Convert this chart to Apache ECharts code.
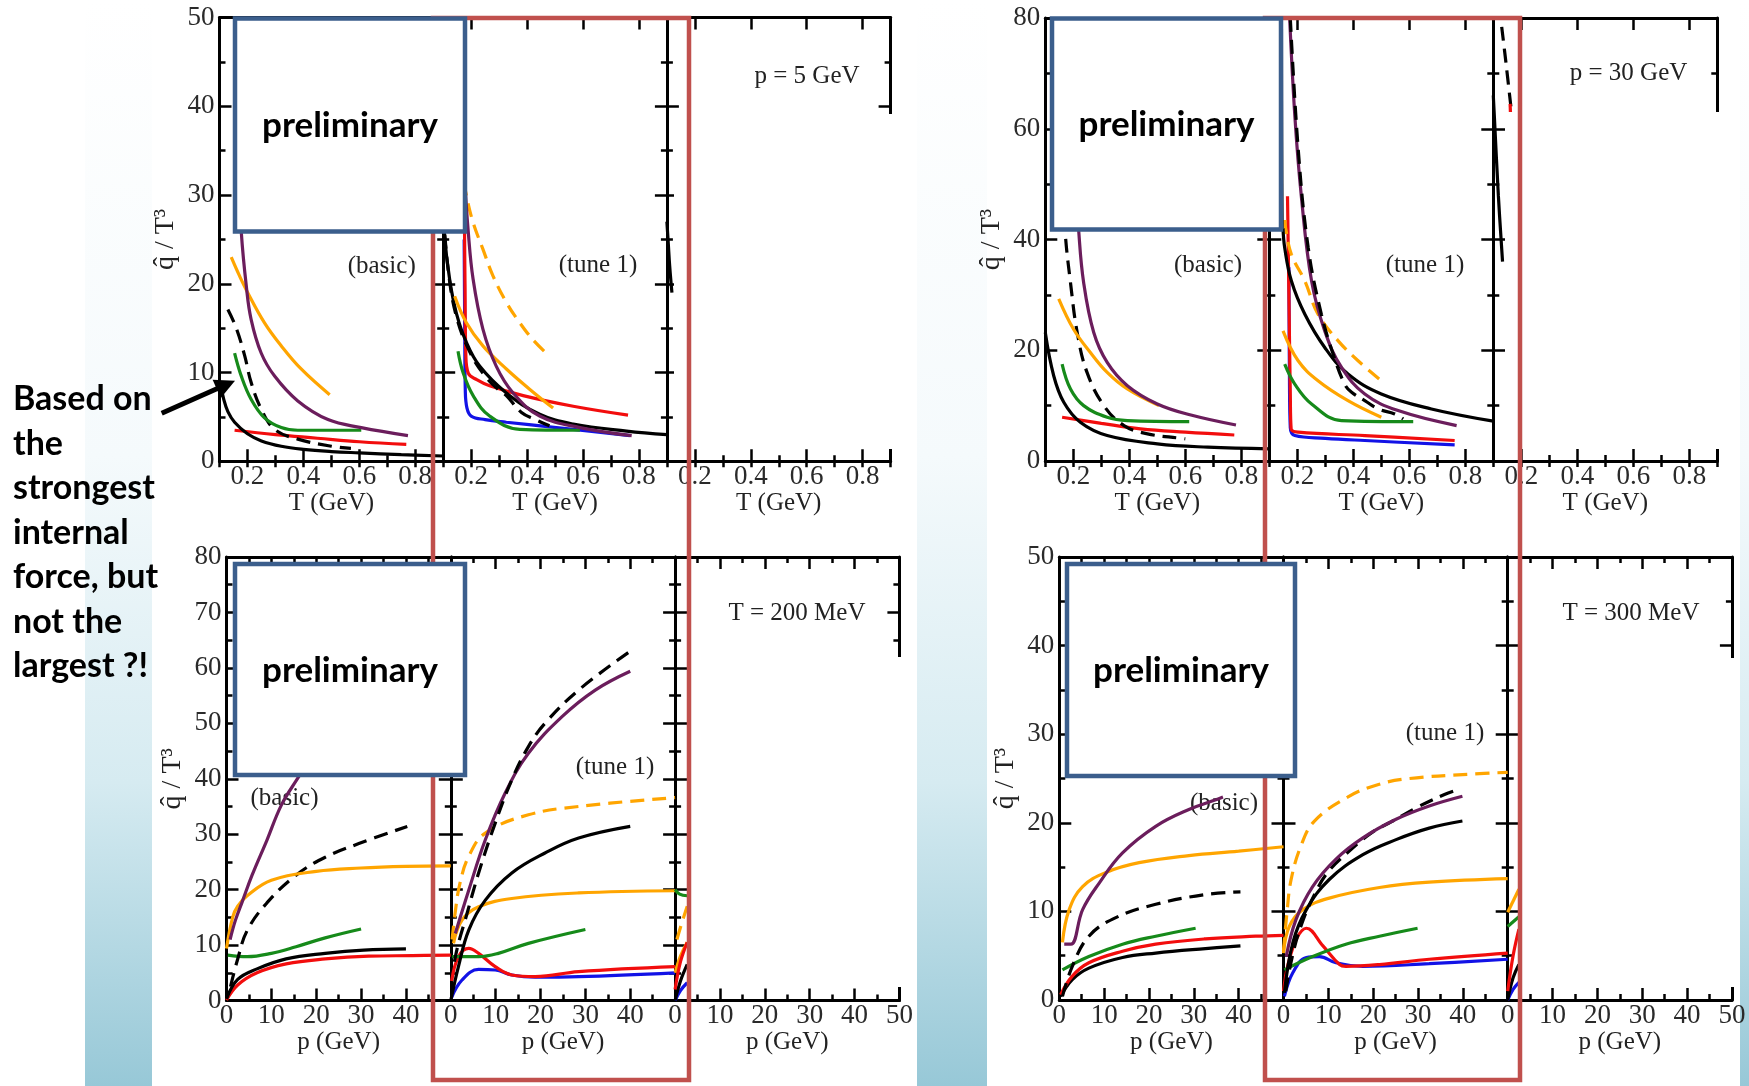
<!DOCTYPE html>
<html><head><meta charset="utf-8">
<script src="https://cdn.jsdelivr.net/npm/echarts@6/dist/echarts.min.js"></script>
<style>html,body{margin:0;padding:0;background:#fff}#c{width:1749px;height:1086px}</style>
</head><body><div id="c"></div>
<script>
// ================= DATA =================
// ---- Top-left figure: p = 5 GeV, x = T (GeV), y = qhat/T^3 ----
const TL_xTicks = [0.2, 0.4, 0.6, 0.8];
const TL_yTicks = [0, 10, 20, 30, 40, 50];
const TL_basic_black   = [[0.105,8.6],[0.115,7.0],[0.13,5.6],[0.154,4.4],[0.2,3.1],[0.25,2.3],[0.321,1.7],[0.4,1.35],[0.5,1.1],[0.6,0.95],[0.75,0.75],[0.9,0.6]];
const TL_basic_blackD  = [[0.13,17.1],[0.16,15.0],[0.19,11.9],[0.213,8.9],[0.249,5.9],[0.297,3.6],[0.38,2.5],[0.5,1.7],[0.57,1.45]];
const TL_basic_orange  = [[0.142,23.0],[0.17,21.0],[0.201,19.0],[0.261,15.6],[0.321,13.0],[0.392,10.4],[0.494,7.5]];
const TL_basic_purple  = [[0.16,40],[0.17,32],[0.178,25.8],[0.196,19.7],[0.213,16.0],[0.249,12.2],[0.297,9.6],[0.38,6.8],[0.488,4.7],[0.607,3.8],[0.774,2.9]];
const TL_basic_green   = [[0.154,12.2],[0.178,9.6],[0.213,7.0],[0.261,4.9],[0.321,3.8],[0.38,3.5],[0.607,3.5]];
const TL_basic_red     = [[0.154,3.5],[0.3,3.0],[0.45,2.6],[0.6,2.2],[0.768,1.9]];
const TL_tune_black    = [[0.1,30],[0.105,25.4],[0.123,20.5],[0.147,16.7],[0.183,13.4],[0.231,10.7],[0.326,7.7],[0.445,5.3],[0.565,4.2],[0.756,3.4],[0.9,3.0]];
const TL_tune_blackD   = [[0.1,28],[0.12,21],[0.15,16],[0.2,12],[0.25,9.6],[0.3,8.0],[0.326,7.4],[0.38,5.5],[0.43,4.7],[0.48,4.0]];
const TL_tune_orangeD  = [[0.175,31.5],[0.183,29.9],[0.207,26.9],[0.242,23.9],[0.278,20.9],[0.326,17.9],[0.374,15.6],[0.421,13.7],[0.475,12.0]];
const TL_tune_orange   = [[0.141,18.6],[0.183,15.6],[0.242,13.0],[0.326,10.4],[0.41,8.1],[0.493,6.0]];
const TL_tune_purple   = [[0.172,36],[0.177,31.8],[0.189,26.1],[0.207,20.5],[0.242,14.9],[0.29,10.7],[0.35,7.7],[0.445,5.1],[0.589,3.8],[0.774,2.9]];
const TL_tune_green    = [[0.153,12.4],[0.171,10.0],[0.207,7.4],[0.266,5.1],[0.374,3.6],[0.589,3.5]];
const TL_tune_blue     = [[0.175,25],[0.177,15],[0.179,8],[0.185,6],[0.2,5.1],[0.25,4.7],[0.326,4.4],[0.505,3.8],[0.768,2.9]];
const TL_tune_red      = [[0.176,27],[0.178,20],[0.181,12],[0.19,9.9],[0.22,9.2],[0.266,8.5],[0.386,7.4],[0.565,6.2],[0.761,5.2]];
const TL_p3_black      = [[0.1,27],[0.105,24.5],[0.11,22],[0.118,19]];

// ---- Top-right figure: p = 30 GeV ----
const TR_xTicks = [0.2, 0.4, 0.6, 0.8];
const TR_yTicks = [0, 20, 40, 60, 80];
const TR_basic_black   = [[0.1,23.2],[0.13,15.4],[0.166,10.6],[0.225,7.0],[0.321,4.6],[0.5,3.1],[0.68,2.5],[0.9,2.2]];
const TR_basic_blackD  = [[0.155,60],[0.165,48],[0.172,40.6],[0.19,32.2],[0.214,23.2],[0.249,16.0],[0.309,10.0],[0.381,6.4],[0.465,4.9],[0.584,4.1],[0.6,4.0]];
const TR_basic_orange  = [[0.148,29.3],[0.201,23.8],[0.261,19.6],[0.321,16.0],[0.393,13.0],[0.506,10.0]];
const TR_basic_purple  = [[0.2,62],[0.21,50],[0.219,41.8],[0.237,32.2],[0.273,23.2],[0.321,17.8],[0.393,13.6],[0.5,10.3],[0.62,8.3],[0.781,6.5]];
const TR_basic_green   = [[0.16,17.5],[0.19,13.0],[0.237,10.0],[0.321,7.9],[0.393,7.3],[0.614,7.1]];
const TR_basic_red     = [[0.16,7.9],[0.3,6.8],[0.44,5.8],[0.6,5.2],[0.775,4.7]];
const TR_tune_blackTop = [[0.1465,80],[0.147,65],[0.148,50],[0.149,42]];
const TR_tune_black    = [[0.149,42],[0.155,38.5],[0.179,32.5],[0.227,26.5],[0.298,20.5],[0.381,15.7],[0.5,12.1],[0.679,9.4],[0.9,7.2]];
const TR_tune_blackD   = [[0.175,80],[0.203,56.5],[0.239,38.5],[0.286,26.5],[0.33,19],[0.37,13.8],[0.394,12.4],[0.441,10.9],[0.489,9.4],[0.548,8.5],[0.578,7.6]];
const TR_tune_purple   = [[0.171,82],[0.191,62.5],[0.215,47.5],[0.251,32.5],[0.298,23.5],[0.358,16.9],[0.441,12.1],[0.56,9.1],[0.769,6.4]];
const TR_tune_orangeD  = [[0.156,43.5],[0.158,42.1],[0.179,37.3],[0.227,32.5],[0.274,26.5],[0.346,21.7],[0.417,18.1],[0.5,14.5]];
const TR_tune_orange   = [[0.149,23.5],[0.203,18.1],[0.274,14.5],[0.381,10.9],[0.5,7.9]];
const TR_tune_green    = [[0.155,17.5],[0.191,13.9],[0.251,10.3],[0.358,7.3],[0.614,7.1]];
const TR_tune_blue     = [[0.17,35],[0.172,15],[0.175,6],[0.191,4.6],[0.3,4.1],[0.441,3.7],[0.762,2.9]];
const TR_tune_red      = [[0.165,47.8],[0.17,30],[0.175,12],[0.178,5.8],[0.203,5.2],[0.441,4.6],[0.762,3.7]];
const TR_p3_black      = [[0.1,66],[0.104,62],[0.118,48],[0.133,36]];
const TR_p3_blackD     = [[0.13,78.4],[0.145,72],[0.165,63]];
const TR_p3_red        = [[0.16,64.5],[0.162,62]];

// ---- Bottom-left figure: T = 200 MeV, x = p (GeV) ----
const BL_xTicks = [0, 10, 20, 30, 40, 50];
const BL_yTicks = [0, 10, 20, 30, 40, 50, 60, 70, 80];
const BL_basic_purple  = [[0.8,11],[2,14.5],[3.5,17.8],[5.7,22.6],[9,28.9],[12.2,35.2],[15.5,39.6],[20,45],[25,50]];
const BL_basic_orange  = [[0,9.4],[1.4,15.1],[2.5,17],[4.6,18.9],[10,21.7],[20,23.3],[30,23.9],[40,24.2],[50,24.3]];
const BL_basic_blackD  = [[0.9,2.5],[2.5,7.5],[4.6,12.6],[9,17.6],[15.5,22.6],[21.9,25.8],[29.5,28.3],[40.3,31.4]];
const BL_basic_green   = [[0.3,8.2],[4.6,7.9],[10,8.5],[15.5,9.7],[22,11.3],[30,12.9]];
const BL_basic_black   = [[0,0.3],[2.5,3.8],[6.8,5.7],[13.3,7.5],[22,8.5],[30.6,9.1],[40,9.3]];
const BL_basic_red     = [[0,0.1],[2.5,2.8],[6.8,5.0],[13.3,6.6],[22,7.5],[31.7,8.0],[41.4,8.1],[50,8.2]];
const BL_tune_blackD   = [[0.8,7],[1.7,10.3],[3.2,14.5],[6.2,23.0],[9.9,32.0],[13.6,39.8],[17.3,45.8],[21,50.0],[28.5,56.0],[40,63.0]];
const BL_tune_purple   = [[1,12.1],[4,19.9],[7.7,29.0],[12.1,37.4],[17.3,44.6],[24.8,51.2],[32.2,56.0],[40,59.4]];
const BL_tune_orangeD  = [[0.3,11],[1,16],[2,21],[4,26],[7.7,30.2],[17.3,33.5],[28.5,35.0],[50,36.6]];
const BL_tune_black    = [[0,0],[1.7,6.1],[4,12.7],[7.7,18.1],[13.6,23.0],[21,26.6],[28.5,29.3],[40,31.4]];
const BL_tune_orange   = [[0.6,10.3],[2.5,14.5],[6.2,16.9],[13.6,18.4],[28.5,19.4],[50,19.8]];
const BL_tune_green    = [[0.3,7.9],[6.2,7.9],[10.6,8.5],[17.3,10.3],[30,12.8]];
const BL_tune_blue     = [[0.1,0.4],[2.5,3.7],[6.2,5.6],[9.9,5.5],[13.6,4.6],[18.8,4.2],[28.5,4.3],[50,5.0]];
const BL_tune_red      = [[0.2,3.5],[1.7,7.9],[4,9.4],[6.2,8.5],[9.9,6.1],[13.6,4.6],[18.8,4.3],[28.5,5.2],[50,6.1]];
const BL_p3_green      = [[0,20],[1,19.2],[2.7,18.9]];
const BL_p3_orangeD    = [[0.4,11],[1.5,14],[2.7,17]];
const BL_p3_orange     = [[0,5],[1.2,8],[2.7,10.5]];
const BL_p3_black      = [[0,0],[1.2,3.5],[2.7,6.5]];
const BL_p3_blue       = [[0,0],[1.2,1.8],[2.7,3.2]];
const BL_p3_red        = [[0,2],[1.2,7],[2.7,10.5]];

// ---- Bottom-right figure: T = 300 MeV ----
const BR_xTicks = [0, 10, 20, 30, 40, 50];
const BR_yTicks = [0, 10, 20, 30, 40, 50];
const BR_basic_orange  = [[0.7,6.5],[2.2,10.2],[5.2,12.8],[10.4,14.4],[17.8,15.5],[28.9,16.3],[40,16.8],[50,17.3]];
const BR_basic_purple  = [[1.1,6.3],[2.6,6.3],[5.2,10.2],[8.9,13.2],[14.1,16.6],[21.5,19.6],[28.9,21.5],[34.9,22.6],[36.5,22.9]];
const BR_basic_blackD  = [[0.7,0.4],[2.9,3.8],[6.6,7.2],[12.6,9.3],[21.5,10.8],[32.6,11.9],[40.4,12.2]];
const BR_basic_green   = [[0.7,3.4],[6.6,4.9],[14.1,6.3],[21.5,7.2],[30.4,8.1]];
const BR_basic_red     = [[0.3,0.6],[2.9,2.7],[6.6,4.2],[14.1,5.5],[21.5,6.3],[32.6,6.9],[43.8,7.2],[50,7.3]];
const BR_basic_black   = [[0.3,0.4],[2.9,2.3],[6.6,3.6],[14.1,4.8],[21.5,5.3],[32.6,5.8],[40.4,6.1]];
const BR_tune_orangeD  = [[0,5.5],[0.8,10],[1.7,13.6],[3.9,17.4],[6.9,20.2],[14.3,22.9],[21,24.3],[28.1,25.0],[42.2,25.5],[50,25.7]];
const BR_tune_blackD   = [[0.5,1],[2,5],[4,8.5],[7,12],[10,14.5],[15.1,17.0],[20,19],[24,20.1],[30,21.8],[35.9,23.2],[38,23.6]];
const BR_tune_purple   = [[0.6,4.9],[2.8,9.1],[6.5,12.8],[11.7,15.9],[17.7,18.3],[25.1,20.4],[32.5,21.9],[39.9,23.0]];
const BR_tune_black    = [[0.2,0.8],[2.1,6.5],[5.1,10.2],[10.2,13.6],[17.7,16.4],[25.1,18.1],[32.5,19.4],[39.9,20.2]];
const BR_tune_orange   = [[0,5.3],[1.3,8.3],[4.3,10.2],[10.2,11.5],[21.4,12.7],[32.5,13.3],[50,13.7]];
const BR_tune_green    = [[0.2,3.4],[6.5,4.9],[13.9,6.3],[21.4,7.2],[29.9,8.1]];
const BR_tune_blue     = [[0.2,0.4],[2.1,3.1],[5.1,4.8],[8,4.9],[11.7,4.2],[17.7,3.8],[32.5,4.1],[50,4.6]];
const BR_tune_red      = [[0,1],[1,4],[3,7],[5.1,8.1],[8.8,6.1],[12.5,4.0],[13.9,3.8],[21.4,4.0],[32.5,4.6],[50,5.3]];
const BR_p3_green      = [[0,8.3],[2.5,9.4]];
const BR_p3_orange     = [[0,9.9],[2.5,12.5]];
const BR_p3_red        = [[0,1],[1.2,5],[2.5,8]];
const BR_p3_black      = [[0,0],[1.2,2.5],[2.5,4]];
const BR_p3_blue       = [[0,0],[1.2,1.2],[2.5,2]];

// ================= STYLE / LAYOUT =================
const COL = {black:'#000000', orange:'#FFA500', purple:'#6B1D5C', green:'#168A1A', red:'#F20D0D', blue:'#1212E6'};
const ln = (data, color, dashed, width) => ({data, color: COL[color], dashed: !!dashed, width: width || 3.2});
const SERIF = 'Liberation Serif';

const FIGS = [
  {kind:'T', left:219.5, top:17.5, pw:223.7, h:443.8, xmin:0.1, xmax:0.9, xTicks:TL_xTicks, yTicks:TL_yTicks, xName:'T (GeV)',
   panels:[
    [ln(TL_basic_red,'red'), ln(TL_basic_black,'black'), ln(TL_basic_blackD,'black',1), ln(TL_basic_green,'green'), ln(TL_basic_orange,'orange'), ln(TL_basic_purple,'purple')],
    [ln(TL_tune_blue,'blue'), ln(TL_tune_red,'red'), ln(TL_tune_green,'green'), ln(TL_tune_black,'black'), ln(TL_tune_blackD,'black',1), ln(TL_tune_orange,'orange'), ln(TL_tune_orangeD,'orange',1), ln(TL_tune_purple,'purple')],
    [ln(TL_p3_black,'black')]
   ]},
  {kind:'T', left:1045.3, top:18, pw:224, h:443, xmin:0.1, xmax:0.9, xTicks:TR_xTicks, yTicks:TR_yTicks, xName:'T (GeV)',
   panels:[
    [ln(TR_basic_red,'red'), ln(TR_basic_black,'black'), ln(TR_basic_blackD,'black',1), ln(TR_basic_green,'green'), ln(TR_basic_orange,'orange'), ln(TR_basic_purple,'purple')],
    [ln(TR_tune_blue,'blue'), ln(TR_tune_red,'red'), ln(TR_tune_green,'green'), ln(TR_tune_orange,'orange'), ln(TR_tune_orangeD,'orange',1), ln(TR_tune_blackTop,'black',0,1.4), ln(TR_tune_black,'black'), ln(TR_tune_purple,'purple'), ln(TR_tune_blackD,'black',1)],
    [ln(TR_p3_black,'black'), ln(TR_p3_blackD,'black',1), ln(TR_p3_red,'red')]
   ]},
  {kind:'p', left:226.5, top:557, pw:224.3, h:443.5, xmin:0, xmax:50, xTicks:BL_xTicks, yTicks:BL_yTicks, xName:'p (GeV)',
   panels:[
    [ln(BL_basic_red,'red'), ln(BL_basic_black,'black'), ln(BL_basic_green,'green'), ln(BL_basic_blackD,'black',1), ln(BL_basic_orange,'orange'), ln(BL_basic_purple,'purple')],
    [ln(BL_tune_blue,'blue'), ln(BL_tune_red,'red'), ln(BL_tune_green,'green'), ln(BL_tune_orange,'orange'), ln(BL_tune_black,'black'), ln(BL_tune_orangeD,'orange',1), ln(BL_tune_purple,'purple'), ln(BL_tune_blackD,'black',1)],
    [ln(BL_p3_blue,'blue'), ln(BL_p3_black,'black'), ln(BL_p3_orange,'orange'), ln(BL_p3_red,'red'), ln(BL_p3_orangeD,'orange',1), ln(BL_p3_green,'green')]
   ]},
  {kind:'p', left:1059.3, top:557, pw:224.2, h:443, xmin:0, xmax:50, xTicks:BR_xTicks, yTicks:BR_yTicks, xName:'p (GeV)',
   panels:[
    [ln(BR_basic_black,'black'), ln(BR_basic_red,'red'), ln(BR_basic_green,'green'), ln(BR_basic_blackD,'black',1), ln(BR_basic_orange,'orange'), ln(BR_basic_purple,'purple')],
    [ln(BR_tune_blue,'blue'), ln(BR_tune_red,'red'), ln(BR_tune_green,'green'), ln(BR_tune_orange,'orange'), ln(BR_tune_black,'black'), ln(BR_tune_blackD,'black',1), ln(BR_tune_purple,'purple'), ln(BR_tune_orangeD,'orange',1)],
    [ln(BR_p3_blue,'blue'), ln(BR_p3_black,'black'), ln(BR_p3_red,'red'), ln(BR_p3_green,'green'), ln(BR_p3_orange,'orange')]
   ]}
];

// ================= OPTION =================
const option = {animation:false, backgroundColor:'#ffffff', grid:[], xAxis:[], yAxis:[], series:[], graphic:{elements:[]}};
const TICK = {color:'#000', width:2.5};
const AXL = {show:true, onZero:false, lineStyle:{color:'#000', width:3}};
const LBL = {fontFamily:SERIF, fontSize:27, color:'#2a2a2a'};

FIGS.forEach(fig => {
  const isT = fig.kind === 'T';
  const yMax = fig.yTicks[fig.yTicks.length - 1];
  const yInt = fig.yTicks[1] - fig.yTicks[0];
  fig.panels.forEach((lines, k) => {
    const gi = option.grid.length;
    option.grid.push({left: fig.left + k * fig.pw, top: fig.top, width: fig.pw, height: fig.h});
    const xb = option.xAxis.length;
    const labelVals = isT ? fig.xTicks : (k < 2 ? fig.xTicks.slice(0, -1) : fig.xTicks);
    const xInt = isT ? 0.1 : fig.xTicks[1] - fig.xTicks[0];
    const xCommon = {gridIndex:gi, type:'value', min:fig.xmin, max:fig.xmax, interval:xInt, splitLine:{show:false}};
    const majorTick = isT ? {show:true, inside:true, length:12, lineStyle:TICK, customValues:fig.xTicks}
                          : {show:true, inside:true, length:12, lineStyle:TICK};
    const minor = isT ? {show:false} : {show:true, splitNumber:2, length:6, lineStyle:TICK};
    option.xAxis.push(Object.assign({}, xCommon, {
      position:'bottom', axisLine:AXL, axisTick:majorTick, minorTick:minor,
      axisLabel:Object.assign({show:true, margin:2, customValues:labelVals}, LBL),
      name:fig.xName, nameLocation:'middle', nameGap:27,
      nameTextStyle:{fontFamily:SERIF, fontSize:25, color:'#222'}
    }));
    option.xAxis.push(Object.assign({}, xCommon, {position:'top', axisLine:AXL, axisTick:majorTick, minorTick:minor, axisLabel:{show:false}}));
    if (isT) {
      ['bottom', 'top'].forEach(pos => option.xAxis.push(Object.assign({}, xCommon, {
        position:pos, axisLine:{show:false}, axisTick:{show:true, inside:true, length:6, lineStyle:TICK}, axisLabel:{show:false}
      })));
    }
    const yl = option.yAxis.length;
    const yCommon = {gridIndex:gi, type:'value', min:0, max:yMax, interval:yInt, splitLine:{show:false}, axisLine:AXL,
      axisTick:{show:true, inside:true, length:12, lineStyle:TICK},
      minorTick:{show:true, splitNumber:2, length:6, lineStyle:TICK}};
    option.yAxis.push(Object.assign({}, yCommon, {
      position:'left',
      axisLabel: k === 0 ? Object.assign({show:true, margin:5}, LBL) : {show:false},
      name: k === 0 ? 'q\u0302 / T\u00B3' : '', nameLocation:'middle', nameGap:40,
      nameTextStyle:{fontFamily:SERIF, fontSize:28, color:'#222'}
    }));
    option.yAxis.push(Object.assign({}, yCommon, {position:'right', axisLabel:{show:false}}));
    lines.forEach(L => {
      option.series.push({
        type:'line', xAxisIndex:xb, yAxisIndex:yl, data:L.data, symbol:'none', showSymbol:false,
        smooth:0.4, silent:true, z:3,
        lineStyle:{color:L.color, width:L.width, type: L.dashed ? [14, 8] : 'solid'},
        itemStyle:{color:L.color}
      });
    });
  });
});

// ================= DECORATIONS =================
const G = option.graphic.elements;
const bandGrad = {type:'linear', x:0, y:0, x2:0, y2:1, colorStops:[
  {offset:0, color:'#ffffff'}, {offset:0.42, color:'#f5fafc'}, {offset:0.72, color:'#d6ebf1'}, {offset:1, color:'#97c8d7'}]};
[[85, 67], [917, 70], [1740, 9]].forEach(([x, w]) => G.push({type:'rect', z:0, silent:true, shape:{x, y:0, width:w, height:1086}, style:{fill:bandGrad}}));

const SERIF_TXT = (text, x, y) => ({type:'text', z:1, silent:true, x, y,
  style:{text, fill:'#222', font:'25px "Liberation Serif"', textAlign:'center', textVerticalAlign:'middle'}});
[['(basic)',381.7,266.7],['(tune 1)',598,265],['p = 5 GeV',807,76],
 ['(basic)',1208,265],['(tune 1)',1425,265],['p = 30 GeV',1628.5,73],
 ['(basic)',284.5,798],['(tune 1)',615,767],['T = 200 MeV',797,613],
 ['(basic)',1224,803],['(tune 1)',1445,733],['T = 300 MeV',1631,613]].forEach(a => G.push(SERIF_TXT(...a)));

// white cover over the third panels
[[674,114,226,335],[1505,112,232,337],[688,657,220,330],[1519,658,220,329]].forEach(([x,y,w,h]) =>
  G.push({type:'rect', z:50, silent:true, shape:{x, y, width:w, height:h}, style:{fill:'#ffffff'}}));

// red highlight boxes (below the "preliminary" boxes)
[[433,18,256,1062],[1265,18,255,1062]].forEach(([x,y,w,h]) =>
  G.push({type:'rect', z:60, silent:true, shape:{x, y, width:w, height:h}, style:{fill:'none', stroke:'#C0504D', lineWidth:4.5}}));

// "preliminary" boxes
[[235,18.5,230,213],[1052,18.5,229,211],[235,564,230,211],[1067,564,228,212]].forEach(([x,y,w,h]) => {
  G.push({type:'rect', z:70, silent:true, shape:{x, y, width:w, height:h}, style:{fill:'#ffffff', stroke:'#3B5E8C', lineWidth:4.5}});
  G.push({type:'text', z:71, silent:true, x:x + w/2, y:y + h/2 + 1,
    style:{text:'preliminary', fill:'#000', font:'bold 35px Lato', textAlign:'center', textVerticalAlign:'middle'}});
});

// left annotation + arrow
G.push({type:'text', z:72, silent:true, x:13, y:377,
  style:{text:'Based on\nthe\nstrongest\ninternal\nforce, but\nnot the\nlargest ?!', fill:'#000', font:'bold 34px Lato', lineHeight:44.5, textVerticalAlign:'top', textAlign:'left'}});
G.push({type:'line', z:72, silent:true, shape:{x1:161.7, y1:413.3, x2:218, y2:388.3}, style:{stroke:'#000', lineWidth:5}});
G.push({type:'polygon', z:72, silent:true, shape:{points:[[235,380.7],[220.8,397.9],[212.6,379.7]]}, style:{fill:'#000'}});

const chart = echarts.init(document.getElementById('c'), null, {renderer:'canvas'});
chart.setOption(option);
</script>
</body></html>
